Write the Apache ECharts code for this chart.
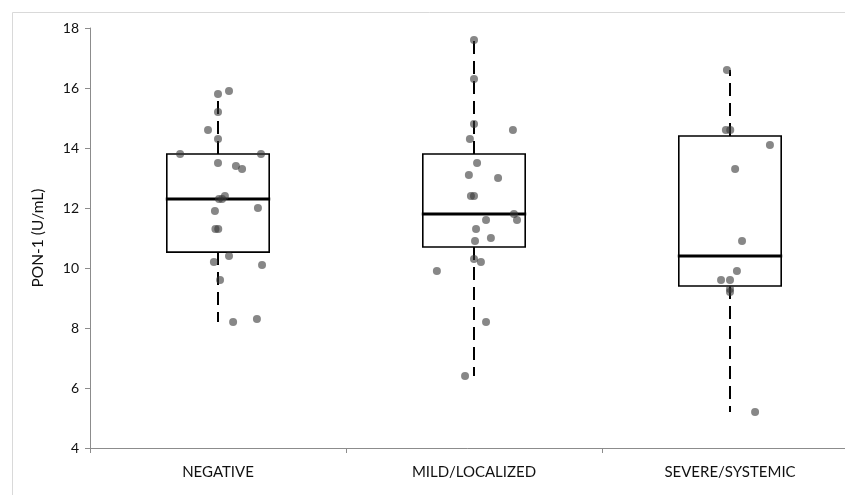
<!DOCTYPE html>
<html>
<head>
<meta charset="utf-8">
<title>PON-1 by severity</title>
<script src="https://cdn.jsdelivr.net/npm/echarts@6/dist/echarts.min.js"></script>
<style>
  html, body { margin: 0; padding: 0; background: #ffffff; }
  #chart { width: 845px; height: 495px; }
</style>
</head>
<body>
<div id="chart"></div>
<script>
// Groups along the x axis
const categories = ['NEGATIVE', 'MILD/LOCALIZED', 'SEVERE/SYSTEMIC'];

// Box summaries per group: [whisker low, Q1, median, Q3, whisker high]
const boxNegative = [8.2, 10.53, 12.3, 13.8, 15.8];
const boxMild     = [6.4, 10.7, 11.8, 13.8, 17.6];
const boxSevere   = [5.2, 9.4, 10.4, 14.4, 16.6];

// Individual measurements (U/mL) with their horizontal jitter (fraction of a category band)
const negValues = [15.9, 15.8, 15.2, 14.6, 14.3, 13.8, 13.8, 13.5, 13.4, 13.3, 12.4, 12.3, 12.3, 12.0, 11.9, 11.3, 11.3, 10.4, 10.2, 10.1, 9.6, 8.3, 8.2];
const negJitter = [0.043, 0, 0, -0.039, 0, -0.148, 0.168, 0, 0.07, 0.094, 0.027, 0.004, 0.016, 0.156, -0.012, -0.01, 0.001, 0.043, -0.016, 0.172, 0.008, 0.152, 0.059];

const mildValues = [17.6, 16.3, 14.8, 14.6, 14.3, 13.5, 13.1, 13.0, 12.4, 12.4, 11.8, 11.6, 11.6, 11.3, 11.0, 10.9, 10.3, 10.2, 9.9, 8.2, 6.4];
const mildJitter = [0, 0, 0, 0.152, -0.016, 0.012, -0.02, 0.094, -0.012, 0, 0.156, 0.047, 0.168, 0.008, 0.066, 0.004, 0, 0.027, -0.145, 0.047, -0.035];

const sevValues = [16.6, 14.6, 14.6, 14.1, 13.3, 10.9, 9.9, 9.6, 9.6, 9.3, 9.2, 5.2];
const sevJitter = [-0.012, -0.016, 0.001, 0.156, 0.02, 0.047, 0.027, -0.035, 0, 0, 0, 0.098];

// Y axis ticks
const yMin = 4, yMax = 18, yStep = 2;

const boxes = [boxNegative, boxMild, boxSevere];
const boxData = boxes.map((b, i) => [i].concat(b));

const groupValues = [negValues, mildValues, sevValues];
const groupJitter = [negJitter, mildJitter, sevJitter];
const pointData = [];
groupValues.forEach((vals, g) => {
  vals.forEach((v, k) => pointData.push([g + groupJitter[g][k], v]));
});

const font = 'Lato, "Open Sans", "Liberation Sans", sans-serif';

function renderBox(params, api) {
  const x = api.value(0);
  const lo = api.coord([x, api.value(1)]);
  const q1 = api.coord([x, api.value(2)]);
  const md = api.coord([x, api.value(3)]);
  const q3 = api.coord([x, api.value(4)]);
  const hi = api.coord([x, api.value(5)]);
  const band = api.size([1, 0])[0];
  const half = band * 0.2;
  const cx = md[0];
  const dash = { stroke: '#000', lineWidth: 2, lineDash: [13, 7] };
  return {
    type: 'group',
    children: [
      { type: 'line', shape: { x1: cx, y1: q3[1], x2: cx, y2: hi[1] }, style: dash },
      { type: 'line', shape: { x1: cx, y1: q1[1], x2: cx, y2: lo[1] }, style: dash },
      { type: 'rect', shape: { x: cx - half, y: q3[1], width: half * 2, height: q1[1] - q3[1] },
        style: { fill: '#fff', stroke: '#000', lineWidth: 1.6 } },
      { type: 'line', shape: { x1: cx - half - 1, y1: md[1], x2: cx + half + 1, y2: md[1] },
        style: { stroke: '#000', lineWidth: 3.2 } }
    ]
  };
}

const chart = echarts.init(document.getElementById('chart'), null, { renderer: 'canvas' });
chart.setOption({
  backgroundColor: '#ffffff',
  animation: false,
  graphic: [{
    type: 'rect', left: 10, top: 10, silent: true, z: -10,
    shape: { width: 900, height: 600 },
    style: { fill: 'none', stroke: '#d9d9d9', lineWidth: 1 }
  }],
  grid: { left: 90, top: 28, width: 768, height: 420, outerBoundsMode: 'none', containLabel: false },
  xAxis: [{
    type: 'category',
    data: categories,
    boundaryGap: true,
    axisLine: { lineStyle: { color: '#8c8c8c', width: 1 } },
    axisTick: { show: true, length: 5, lineStyle: { color: '#8c8c8c' } },
    axisLabel: { color: '#111', fontSize: 15, fontFamily: font, margin: 17 },
    splitLine: { show: false }
  }, {
    type: 'value',
    min: -0.5, max: 2.5,
    show: false
  }],
  yAxis: {
    type: 'value',
    min: yMin, max: yMax, interval: yStep,
    name: 'PON-1 (U/mL)',
    nameLocation: 'middle',
    nameGap: 44,
    nameTextStyle: { color: '#111', fontSize: 15.5, fontFamily: font },
    axisLine: { show: true, onZero: false, lineStyle: { color: '#8c8c8c', width: 1 } },
    axisTick: { show: true, length: 5, lineStyle: { color: '#8c8c8c' } },
    axisLabel: { color: '#111', fontSize: 14, fontFamily: font, margin: 11 },
    splitLine: { show: false }
  },
  series: [{
    type: 'custom',
    xAxisIndex: 0,
    renderItem: renderBox,
    encode: { x: 0, y: [1, 2, 3, 4, 5] },
    data: boxData,
    z: 2
  }, {
    type: 'scatter',
    xAxisIndex: 1,
    symbolSize: 8,
    itemStyle: { color: 'rgba(55,55,55,0.75)' },
    data: pointData,
    z: 3
  }]
});
</script>
</body>
</html>
